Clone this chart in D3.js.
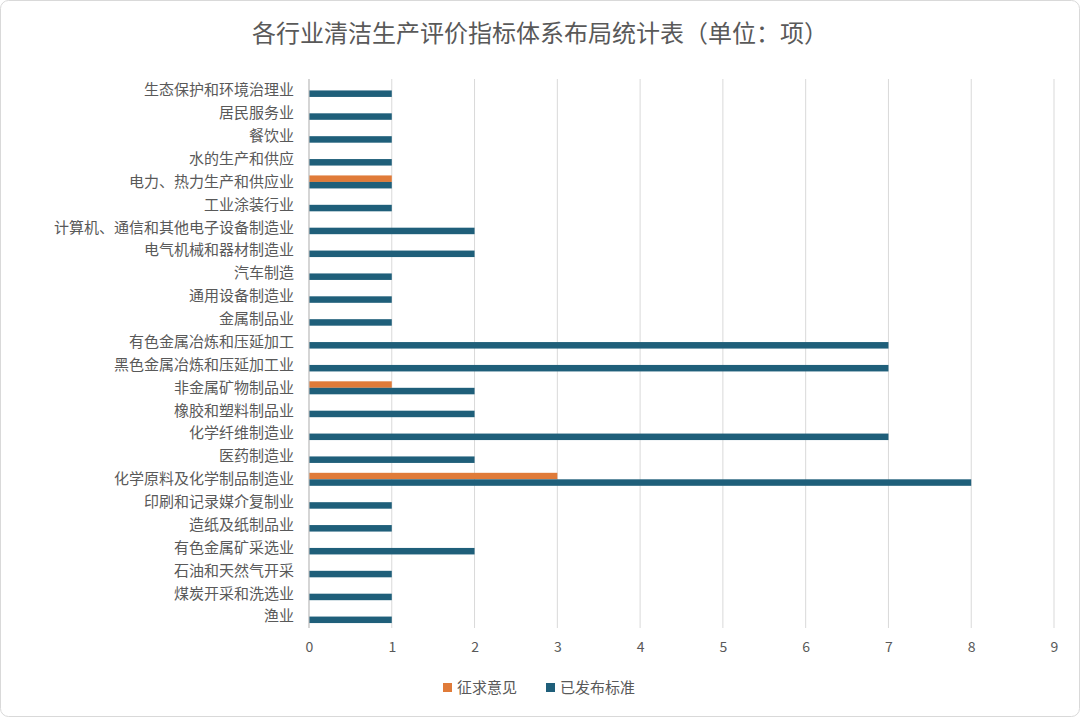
<!DOCTYPE html>
<html><head><meta charset="utf-8">
<script src="https://cdn.jsdelivr.net/npm/d3@7/dist/d3.min.js"></script>
<style>body{margin:0;background:#fff;font-family:"Noto Sans CJK SC","Noto Sans",sans-serif;}</style>
</head><body><svg id="c" width="1080" height="717"></svg>
<script>
const categories = ["生态保护和环境治理业","居民服务业","餐饮业","水的生产和供应","电力、热力生产和供应业","工业涂装行业","计算机、通信和其他电子设备制造业","电气机械和器材制造业","汽车制造","通用设备制造业","金属制品业","有色金属冶炼和压延加工","黑色金属冶炼和压延加工业","非金属矿物制品业","橡胶和塑料制品业","化学纤维制造业","医药制造业","化学原料及化学制品制造业","印刷和记录媒介复制业","造纸及纸制品业","有色金属矿采选业","石油和天然气开采","煤炭开采和洗选业","渔业"];
const solicit = [0,0,0,0,1,0,0,0,0,0,0,0,0,1,0,0,0,3,0,0,0,0,0,0];
const published = [1,1,1,1,1,1,2,2,1,1,1,7,7,2,2,7,2,8,1,1,2,1,1,1];
const ticks = [0,1,2,3,4,5,6,7,8,9];
const seriesNames = ["征求意见","已发布标准"];
const colors = ["#E07B39","#1F5F7A"];

const svg = d3.select("#c");
svg.append("rect").attr("x",0.5).attr("y",0.5).attr("width",1079).attr("height",716).attr("rx",8).attr("fill","#fff").attr("stroke","#d9d9d9");
svg.append("text").attr("x",540).attr("y",42).attr("text-anchor","middle").attr("font-size",24).attr("fill","#595959").text("各行业清洁生产评价指标体系布局统计表（单位：项）");

const x = d3.scaleLinear().domain([0,9]).range([309,1054]);
const y = d3.scaleBand().domain(categories).range([79,628]);
const g = svg.append("g");
g.selectAll("line.grid").data(ticks).join("line").attr("x1",d=>x(d)).attr("x2",d=>x(d)).attr("y1",79).attr("y2",628).attr("stroke","#d9d9d9");
const bh = 6.5;
g.selectAll("rect.s").data(categories.map((c,i)=>({c,v:solicit[i]})).filter(d=>d.v>0)).join("rect")
 .attr("x",x(0)).attr("y",d=>y(d.c)+y.bandwidth()/2-bh).attr("width",d=>x(d.v)-x(0)).attr("height",bh).attr("fill",colors[0]);
g.selectAll("rect.p").data(categories.map((c,i)=>({c,v:published[i]}))).join("rect")
 .attr("x",x(0)).attr("y",d=>y(d.c)+y.bandwidth()/2).attr("width",d=>x(d.v)-x(0)).attr("height",bh).attr("fill",colors[1]);
g.append("line").attr("x1",x(0)).attr("x2",x(0)).attr("y1",79).attr("y2",628).attr("stroke","#bfbfbf");

const xa = svg.append("g").attr("transform","translate(0,628)").call(d3.axisBottom(x).tickValues(ticks).tickSize(0).tickPadding(14));
xa.select(".domain").remove();
xa.selectAll("text").attr("font-size",14).attr("fill","#595959").attr("font-family","Noto Sans CJK SC");
const ya = svg.append("g").attr("transform","translate(300,0)").call(d3.axisLeft(y).tickSize(0).tickPadding(6));
ya.select(".domain").remove();
ya.selectAll("text").attr("font-size",15).attr("fill","#595959").attr("font-family","Noto Sans CJK SC");

const lg = svg.append("g").attr("transform","translate(443,688)");
seriesNames.forEach((n,i)=>{
  const o = i*103;
  lg.append("rect").attr("x",o).attr("y",-5).attr("width",9).attr("height",9).attr("fill",colors[i]);
  lg.append("text").attr("x",o+14).attr("y",5).attr("font-size",15).attr("fill","#595959").text(n);
});
</script></body></html>
